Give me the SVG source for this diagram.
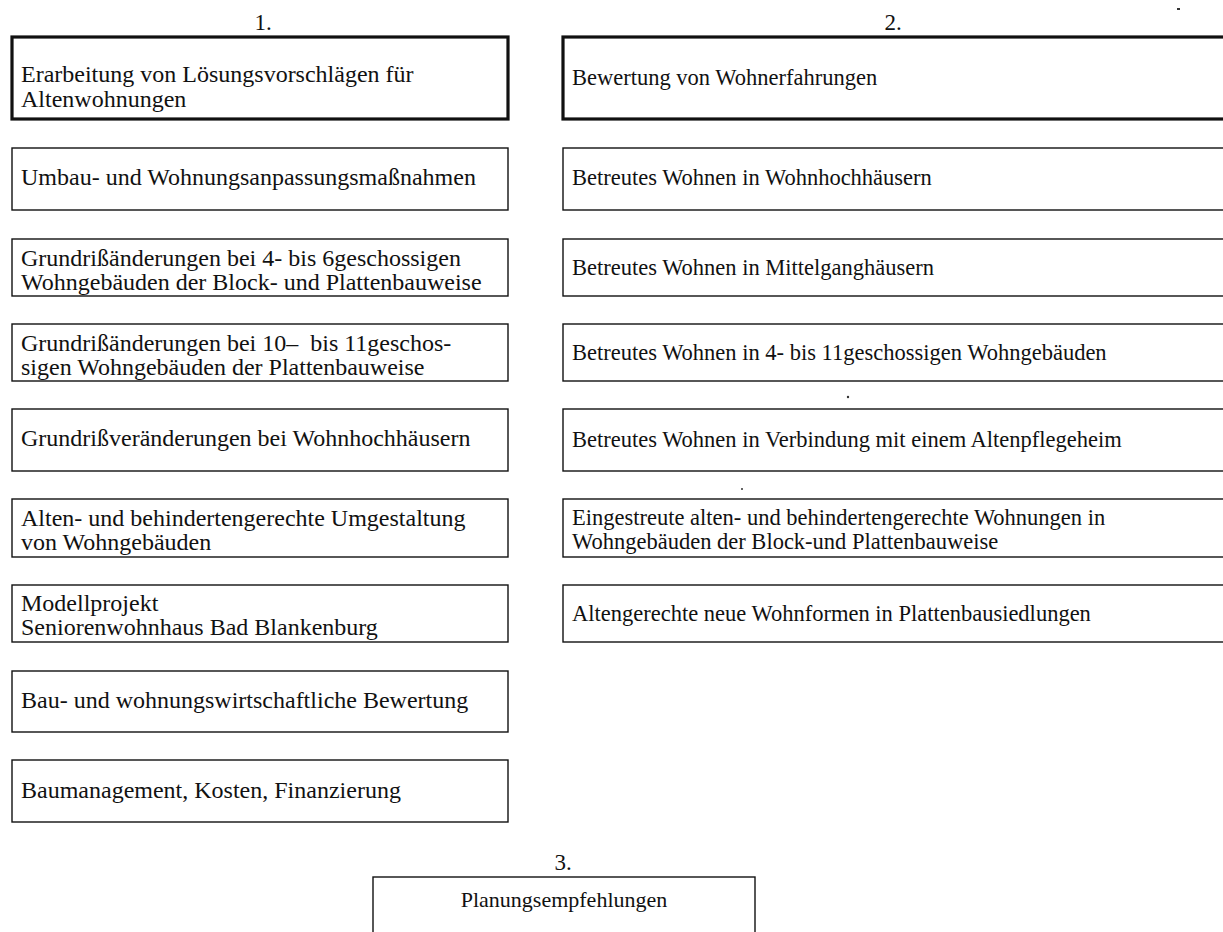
<svg xmlns="http://www.w3.org/2000/svg" width="1223" height="932" viewBox="0 0 1223 932">
<style>
.box{fill:#fff;stroke:#111;stroke-width:1.4}
.head{fill:#fff;stroke:#111;stroke-width:3.2}
.t{font-family:"Liberation Serif","Times New Roman",serif;font-size:24px;fill:#111}
.r{font-family:"Liberation Serif","Times New Roman",serif;font-size:22.5px;fill:#111}
.num{font-family:"Liberation Serif","Times New Roman",serif;font-size:23px;fill:#111;text-anchor:middle}
.c{text-anchor:middle;font-size:22px}
</style>
<rect width="1223" height="932" fill="#fff"/>
<g id="labels">
<text class="num" x="263" y="30">1.</text>
<text class="num" x="893" y="30">2.</text>
<text class="num" x="563" y="870">3.</text>
</g>
<g id="col1-head"><rect class="head" x="12" y="37" width="496" height="82"/><text class="t" x="21" y="82">Erarbeitung von Lösungsvorschlägen für</text><text class="t" x="21" y="107">Altenwohnungen</text></g>
<g id="col1-a"><rect class="box" x="12" y="148" width="496" height="62"/><text class="t" x="21" y="185">Umbau- und Wohnungsanpassungsmaßnahmen</text></g>
<g id="col1-b"><rect class="box" x="12" y="239" width="496" height="57"/><text class="t" x="21" y="266">Grundrißänderungen bei 4- bis 6geschossigen</text><text class="t" x="21" y="290">Wohngebäuden der Block- und Plattenbauweise</text></g>
<g id="col1-c"><rect class="box" x="12" y="324" width="496" height="57"/><text class="t" x="21" y="351">Grundrißänderungen bei 10–&#160; bis 11geschos-</text><text class="t" x="21" y="375">sigen Wohngebäuden der Plattenbauweise</text></g>
<g id="col1-d"><rect class="box" x="12" y="409" width="496" height="62"/><text class="t" x="21" y="446">Grundrißveränderungen bei Wohnhochhäusern</text></g>
<g id="col1-e"><rect class="box" x="12" y="499" width="496" height="58"/><text class="t" x="21" y="526">Alten- und behindertengerechte Umgestaltung</text><text class="t" x="21" y="550">von Wohngebäuden</text></g>
<g id="col1-f"><rect class="box" x="12" y="585" width="496" height="57"/><text class="t" x="21" y="611">Modellprojekt</text><text class="t" x="21" y="635">Seniorenwohnhaus Bad Blankenburg</text></g>
<g id="col1-g"><rect class="box" x="12" y="671" width="496" height="61"/><text class="t" x="21" y="708">Bau- und wohnungswirtschaftliche Bewertung</text></g>
<g id="col1-h"><rect class="box" x="12" y="760" width="496" height="62"/><text class="t" x="21" y="798">Baumanagement, Kosten, Finanzierung</text></g>
<g id="col2-head"><rect class="head" x="563" y="37" width="680" height="82"/><text class="r" x="572" y="85">Bewertung von Wohnerfahrungen</text></g>
<g id="col2-a"><rect class="box" x="563" y="148" width="680" height="62"/><text class="r" x="572" y="185">Betreutes Wohnen in Wohnhochhäusern</text></g>
<g id="col2-b"><rect class="box" x="563" y="239" width="680" height="57"/><text class="r" x="572" y="275">Betreutes Wohnen in Mittelganghäusern</text></g>
<g id="col2-c"><rect class="box" x="563" y="324" width="680" height="57"/><text class="r" x="572" y="360">Betreutes Wohnen in 4- bis 11geschossigen Wohngebäuden</text></g>
<g id="col2-d"><rect class="box" x="563" y="409" width="680" height="62"/><text class="r" x="572" y="447">Betreutes Wohnen in Verbindung mit einem Altenpflegeheim</text></g>
<g id="col2-e"><rect class="box" x="563" y="499" width="680" height="58"/><text class="r" x="572" y="525">Eingestreute alten- und behindertengerechte Wohnungen in</text><text class="r" x="572" y="549">Wohngebäuden der Block-und Plattenbauweise</text></g>
<g id="col2-f"><rect class="box" x="563" y="585" width="680" height="57"/><text class="r" x="572" y="621">Altengerechte neue Wohnformen in Plattenbausiedlungen</text></g>
<g id="result"><rect class="box" x="373" y="877" width="382" height="70"/><text class="t c" x="564" y="907">Planungsempfehlungen</text></g>
<g id="connectors"></g>
<g id="specks" fill="#333"><rect x="1177" y="8" width="3" height="2"/><circle cx="848" cy="397" r="1.2"/><circle cx="742" cy="489" r="1"/></g>
</svg>
